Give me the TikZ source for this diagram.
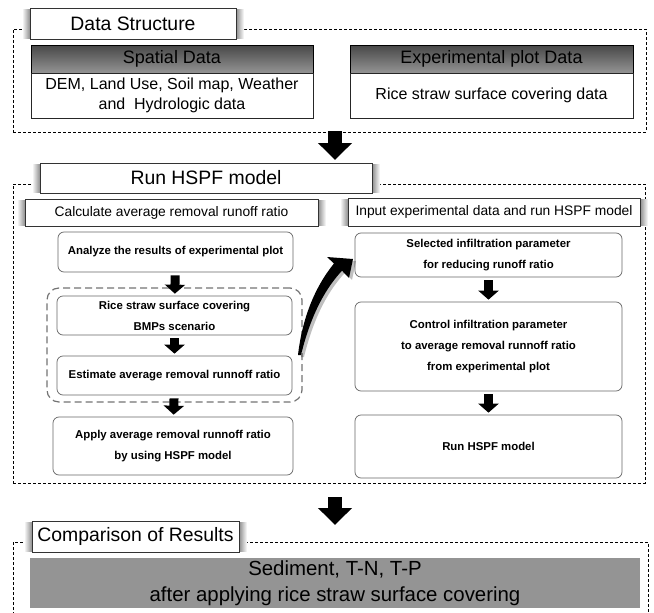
\documentclass[tikz,border=0pt]{standalone}
\usepackage{fontspec}
\setmainfont{Liberation Sans}
\usetikzlibrary{arrows.meta}

% grey side glow behind a title box
\newcommand\sideglow[4]{%
  \shade[left color=white, right color=black!45] (#1-8,#2+1) rectangle (#1,#4-1);
  \shade[left color=black!45, right color=white] (#3,#2+1) rectangle (#3+8,#4-1);
}
% \cornernode{style}{name}{x1}{y1}{x2}{y2}{text}: node spanning the given corners
\newcommand\cornernode[7]{%
  \node[#1, minimum width={(#5-#3)*1pt}, minimum height={(#6-#4)*1pt}]
    (#2) at ({(#3+#5)/2},{(#4+#6)/2}) {#7};
}

\begin{document}
\begin{tikzpicture}[x=1pt,y=-1pt,
  outerbox/.style={draw=black, dash pattern=on 3pt off 2pt, line width=0.8pt, inner sep=0pt},
  titlebox/.style={draw=black!80, line width=0.8pt, fill=white, inner sep=0pt,
    font=\fontsize{19.4}{23}\selectfont},
  hdrbox/.style={draw=black, line width=0.8pt, top color=black!72, bottom color=black!42,
    inner sep=0pt, font=\fontsize{18}{22}\selectfont},
  bodybox/.style={draw=black!85, line width=0.8pt, fill=white, inner sep=0pt, align=center,
    font=\fontsize{16}{20}\selectfont},
  subbox/.style={draw=black!80, line width=0.8pt, fill=white, inner sep=0pt,
    font=\fontsize{13.8}{16}\selectfont},
  stepbox/.style={draw=black!60, line width=0.7pt, rounded corners=6pt, fill=white,
    inner sep=0pt, align=center, font=\fontsize{11.4}{21}\selectfont\bfseries},
  groupbox/.style={draw=black!55, dash pattern=on 7pt off 4pt, line width=1.2pt,
    rounded corners=12pt, inner sep=0pt},
  resultbox/.style={fill=black!42, inner sep=0pt, align=center,
    font=\fontsize{20.4}{26}\selectfont},
  bigarrow/.style={line width=14pt, -{Triangle[width=33pt,length=17pt]}},
  smallarrow/.style={line width=9pt, -{Triangle[width=20pt,length=9pt]}, shorten <=3pt, shorten >=2pt},
]
\useasboundingbox (0,0) rectangle (654,613);

% ---------------- Data Structure ----------------
\cornernode{outerbox}{dsouter}{13}{29}{646}{132}{}
\sideglow{30}{8}{236}{39}
\cornernode{titlebox}{dstitle}{30}{8}{236}{39}{Data Structure}

\cornernode{hdrbox}{sphdr}{31}{45}{313}{73}{Spatial Data}
\cornernode{bodybox}{spbody}{31}{73}{313}{118}{DEM, Land Use, Soil map, Weather\\and~ Hydrologic data}
\cornernode{hdrbox}{exhdr}{350}{45}{633}{73}{Experimental plot Data}
\cornernode{bodybox}{exbody}{350}{73}{633}{118}{Rice straw surface covering data}

% ---------------- Run HSPF model ----------------
\cornernode{outerbox}{runouter}{13}{184}{645}{483}{}
\sideglow{40}{163}{372}{193}
\cornernode{titlebox}{runtitle}{40}{163}{372}{193}{Run HSPF model}

\sideglow{25}{199}{318}{226}
\cornernode{subbox}{calc}{25}{199}{318}{226}{Calculate average removal runoff ratio}
\sideglow{348}{198}{640}{226}
\cornernode{subbox}{input}{348}{198}{640}{226}{Input experimental data and run HSPF model}

% left column
\cornernode{stepbox}{analyze}{58}{232}{293}{272}{Analyze the results of experimental plot}
\cornernode{groupbox}{group}{47}{288}{302}{402}{}
\cornernode{stepbox}{rice}{57}{296}{292}{335}{Rice straw surface covering\\BMPs scenario}
\cornernode{stepbox}{estimate}{57}{356}{292}{395}{Estimate average removal runnoff ratio}
\cornernode{stepbox}{apply}{53}{417}{293}{475}{Apply average removal runnoff ratio\\by using HSPF model}

% right column
\cornernode{stepbox}{select}{355}{233}{622}{277}{Selected infiltration parameter\\for reducing runoff ratio}
\cornernode{stepbox}{control}{355}{302}{622}{391}{Control infiltration parameter\\to average removal runnoff ratio\\from experimental plot}
\cornernode{stepbox}{runmodel}{355}{415}{622}{478}{Run HSPF model}

\draw[smallarrow] (analyze) -- (rice);
\draw[smallarrow] (rice) -- (estimate);
\draw[smallarrow] (estimate) -- (apply);
\draw[smallarrow] (select) -- (control);
\draw[smallarrow] (control) -- (runmodel);

% tapered curved arrow from the scenario group to the right column
\begin{scope}[shift={(3,2)}]
\fill[black, opacity=0.25] (298,355) .. controls (302,320) and (314,288) .. (334,263.5)
  -- (327,257) -- (353,259) -- (349,278) -- (342,270.7)
  .. controls (322,292) and (309,322) .. (301,355) -- cycle;
\end{scope}
\fill[black] (298,355) .. controls (302,320) and (314,288) .. (334,263.5)
  -- (327,257) -- (353,259) -- (349,278) -- (342,270.7)
  .. controls (322,292) and (309,322) .. (301,355) -- cycle;

% ---------------- Comparison of Results ----------------
\draw[outerbox] (13,615) -- (13,542) -- (648,542) -- (648,615);
\sideglow{32}{521}{239}{552}
\cornernode{titlebox}{cmptitle}{32}{521}{239}{552}{Comparison of Results}
\cornernode{resultbox}{result}{30}{558}{640}{608}{Sediment, T-N, T-P\\after applying rice straw surface covering}

% big arrows between the three stages
\coordinate (a1s) at (335,131);
\coordinate (a1e) at (335,160);
\coordinate (a2s) at (335,497);
\coordinate (a2e) at (335,525);
\draw[bigarrow] (a1s) -- (a1e);
\draw[bigarrow] (a2s) -- (a2e);
\end{tikzpicture}
\end{document}
